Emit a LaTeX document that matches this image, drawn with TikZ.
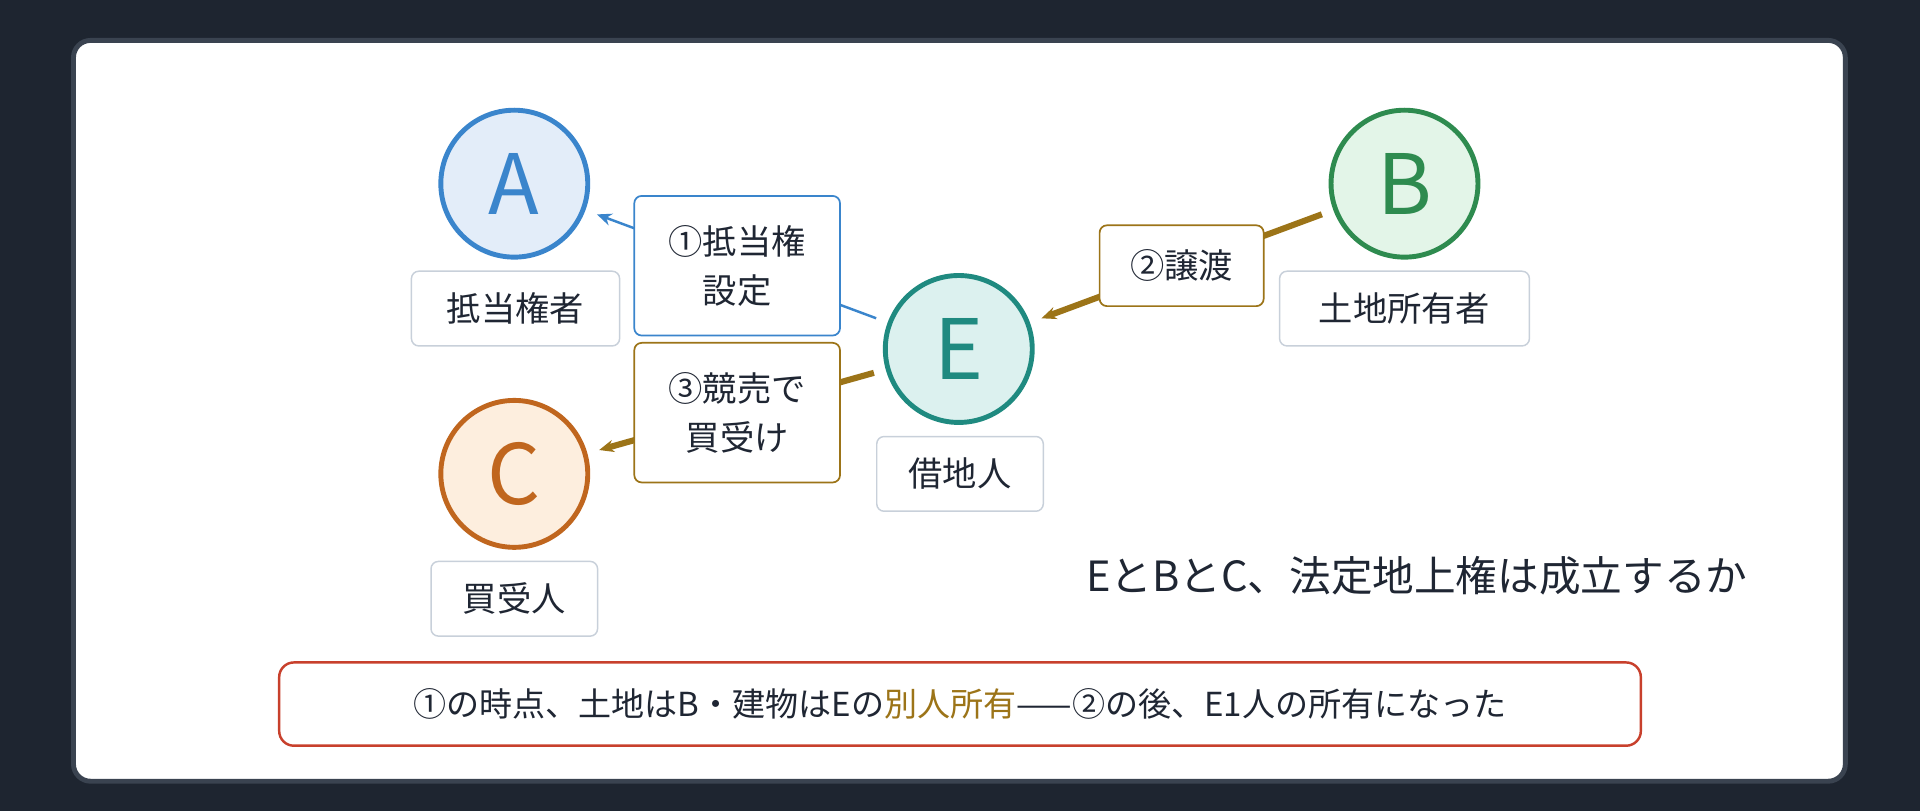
\documentclass[tikz,border=0pt]{standalone}
\usepackage{fontspec}
\setmainfont{Noto Sans CJK JP}
\usetikzlibrary{arrows.meta}
\definecolor{bgdark}{HTML}{1E2530}
\definecolor{cardedge}{HTML}{3A4350}
\definecolor{ink}{HTML}{1F2633}
\definecolor{ablue}{HTML}{3A85CC}
\definecolor{afill}{HTML}{E3EDF9}
\definecolor{bgreen}{HTML}{2E8B4F}
\definecolor{bfill}{HTML}{E3F5E8}
\definecolor{eteal}{HTML}{1F8A80}
\definecolor{efill}{HTML}{DCF1EF}
\definecolor{corange}{HTML}{C0661E}
\definecolor{cfill}{HTML}{FDEEDE}
\definecolor{gold}{HTML}{9C7418}
\definecolor{redline}{HTML}{C8402C}
\definecolor{grayedge}{HTML}{C8D0DA}
\begin{document}
\begin{tikzpicture}
[x=0.5pt, y=-0.5pt,
 party/.style={circle, minimum size=60pt, line width=2pt, font=\fontsize{34}{34}\selectfont, inner sep=0pt},
 role/.style={draw=grayedge, fill=white, rounded corners=3pt, line width=0.6pt, font=\fontsize{14}{14}\selectfont, text=ink, inner sep=0pt, minimum height=30.5pt},
 deed/.style={fill=white, rounded corners=3pt, line width=0.7pt, font=\fontsize{14}{20}\selectfont, text=ink, align=center, inner sep=0pt, minimum width=84pt},
 link/.style={-{Stealth[length=6pt,width=5pt]}, shorten >=5pt, shorten <=5pt}]
\fill[bgdark] (0,0) rectangle (1568,662);
\draw[fill=white, draw=cardedge, line width=2pt, rounded corners=7pt] (60,33) rectangle (1507,638);

\node (A) [party, fill=afill, draw=ablue, text=ablue] at (420,150) {A};
\node (B) [party, fill=bfill, draw=bgreen, text=bgreen] at (1147,150) {B};
\node (E) [party, fill=efill, draw=eteal, text=eteal] at (783,285) {E};
\node (C) [party, fill=cfill, draw=corange, text=corange] at (420,387) {C};

\node (Alab) [role, minimum width=85pt] at (421,252) {抵当権者};
\node (Blab) [role, minimum width=102pt] at (1147,252) {土地所有者};
\node (Elab) [role, minimum width=68pt] at (784,387) {借地人};
\node (Clab) [role, minimum width=68pt] at (420,489) {買受人};

\draw [link, draw=ablue, line width=1pt] (E) to (A);
\draw [link, draw=gold, line width=2.5pt] (B) to (E);
\draw [link, draw=gold, line width=2.5pt] (E) to (C);

\node (s1) [deed, draw=ablue, minimum height=57pt] at (602,217) {①抵当権\\設定};
\node (s2) [deed, draw=gold, minimum width=67pt, minimum height=33pt] at (965,217) {②譲渡};
\node (s3) [deed, draw=gold, minimum height=57pt] at (602,337) {③競売で\\買受け};

\node (question) [text=ink, font=\fontsize{17}{17}\selectfont] at (1157,470) {EとBとC、法定地上権は成立するか};

\node (note) [draw=redline, line width=1pt, rounded corners=6pt, fill=white, minimum width=556pt, minimum height=34pt, text=ink, font=\fontsize{13.5}{13.5}\selectfont] at (784,575)
 {①の時点、土地はB・建物はEの\textcolor{gold}{別人所有}——②の後、E1人の所有になった};
\end{tikzpicture}
\end{document}
